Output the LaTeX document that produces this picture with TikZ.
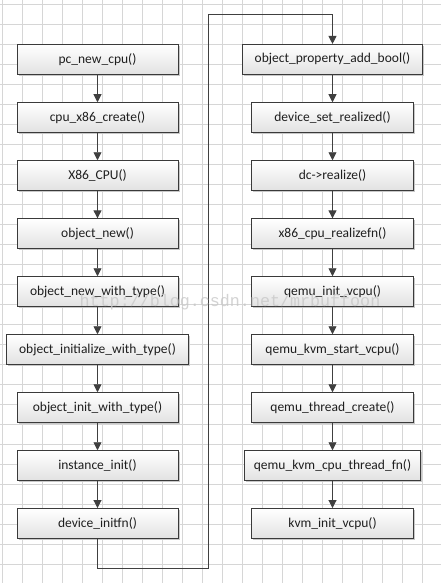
\documentclass[tikz,border=0pt]{standalone}
\usepackage{fontspec}
\setmainfont{Carlito}
\newfontfamily\wmfont{Liberation Mono}
\usetikzlibrary{arrows.meta,shadows}
\definecolor{gridc}{RGB}{214,214,214}
\definecolor{boxline}{RGB}{58,58,58}
\definecolor{boxbot}{RGB}{226,226,226}
\definecolor{linec}{RGB}{64,64,64}
\definecolor{txt}{RGB}{30,30,30}
\definecolor{shadowc}{RGB}{200,200,200}
\definecolor{wmc}{RGB}{200,200,200}
\begin{document}
\begin{tikzpicture}[x=1pt,y=-1pt,
  fn/.style={draw=boxline, line width=0.8pt, top color=white, bottom color=boxbot,
    minimum height=29.7pt, inner sep=0pt, font=\fontsize{13.5}{15}\selectfont, text=txt,
    drop shadow={shadow xshift=1.6pt, shadow yshift=-1.6pt, fill=shadowc, opacity=1}},
  link/.style={draw=linec, line width=0.9pt, -{Triangle[width=8pt,length=8pt]}},
  gridline/.style={draw=gridc, line width=0.8pt}]
\useasboundingbox (0,0) rectangle (441,583);
\fill[white] (0,0) rectangle (441,583);
\foreach \x in {2.7,22.7,...,442.7} \draw[gridline] (\x,0) -- (\x,583);
\foreach \y in {4.3,24.3,...,584.3} \draw[gridline] (0,\y) -- (441,\y);

% left column
\node[fn, minimum width=161pt] (l1) at (97.5,59.2) {pc\_new\_cpu()};
\node[fn, minimum width=161pt] (l2) at (97.5,117.5) {cpu\_x86\_create()};
\node[fn, minimum width=161pt] (l3) at (97.5,175.5) {X86\_CPU()};
\node[fn, minimum width=161pt] (l4) at (97.5,233.6) {object\_new()};
\node[fn, minimum width=161pt] (l5) at (97.5,291.5) {object\_new\_with\_type()};
\node[fn, minimum width=182pt] (l6) at (97.5,349.5) {object\_initialize\_with\_type()};
\node[fn, minimum width=161pt] (l7) at (97.5,407.5) {object\_init\_with\_type()};
\node[fn, minimum width=161pt] (l8) at (97.5,465.5) {instance\_init()};
\node[fn, minimum width=161pt] (l9) at (97.5,523.3) {device\_initfn()};

% right column
\node[fn, minimum width=180pt] (r1) at (332.5,59.2) {object\_property\_add\_bool()};
\node[fn, minimum width=162pt] (r2) at (332.5,117.5) {device\_set\_realized()};
\node[fn, minimum width=162pt] (r3) at (332.5,175.5) {dc->realize()};
\node[fn, minimum width=162pt] (r4) at (332.5,233.6) {x86\_cpu\_realizefn()};
\node[fn, minimum width=162pt] (r5) at (332.5,291.5) {qemu\_init\_vcpu()};
\node[fn, minimum width=162pt] (r6) at (332.5,349.5) {qemu\_kvm\_start\_vcpu()};
\node[fn, minimum width=162pt] (r7) at (332.5,407.5) {qemu\_thread\_create()};
\node[fn, minimum width=176pt] (r8) at (332.5,465.5) {qemu\_kvm\_cpu\_thread\_fn()};
\node[fn, minimum width=162pt] (r9) at (332.5,523.3) {kvm\_init\_vcpu()};

\foreach \a/\b in {l1/l2,l2/l3,l3/l4,l4/l5,l5/l6,l6/l7,l7/l8,l8/l9,
                   r1/r2,r2/r3,r3/r4,r4/r5,r5/r6,r6/r7,r7/r8,r8/r9}
  \draw[link] (\a.south) -- (\b.north);

\coordinate (c1) at (97.5,568.3);
\coordinate (c2) at (208.3,568.3);
\coordinate (c3) at (208.3,14.7);
\coordinate (c4) at (332.5,14.7);
\draw[link] (l9.south) -- (c1) -- (c2) -- (c3) -- (c4) -- (r1.north);

\node[anchor=base, text=wmc, opacity=0.8, font=\wmfont\fontsize{16.7}{18}\selectfont, inner sep=0pt] (wm) at (230,306.5) {http://blog.csdn.net/mrbuffoon};
\end{tikzpicture}
\end{document}
